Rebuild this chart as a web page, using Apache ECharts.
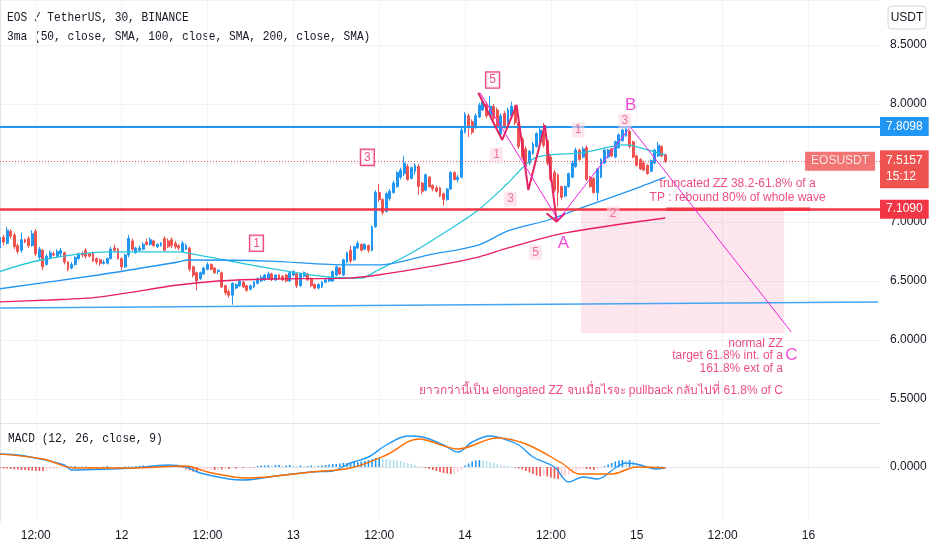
<!DOCTYPE html>
<html><head><meta charset="utf-8">
<script src="https://cdn.jsdelivr.net/npm/echarts@6/dist/echarts.min.js"></script>
<style>html,body{margin:0;padding:0;background:#fff}#c{width:932px;height:550px}</style>
</head><body><div id="c"></div><script>
// ---------- data ----------
const START_DAY = 11, START_MIN = 7 * 60, SLOT = 30, SLOTS = 247;
const categories = [];
for (let k = 0; k < SLOTS; k++) {
  const m = START_MIN + k * SLOT;
  const d = START_DAY + Math.floor(m / 1440);
  const mm = m % 1440;
  categories.push(d + ' ' + String(Math.floor(mm / 60)).padStart(2, '0') + ':' + String(mm % 60).padStart(2, '0'));
}
// [open, close, low, high]
const candlesA = [
[6.78,6.87,6.75,6.91],[6.87,6.83,6.80,6.89],[6.82,6.93,6.81,6.96],[6.92,6.88,6.86,6.94],[6.89,6.79,6.77,6.91],
[6.80,6.75,6.73,6.82],[6.76,6.85,6.74,6.91],[6.85,6.83,6.82,6.86],[6.86,6.80,6.78,6.88],[6.80,6.90,6.79,6.93],
[6.92,6.73,6.71,6.94],[6.70,6.77,6.68,6.79],[6.76,6.62,6.59,6.77],[6.64,6.71,6.63,6.73],[6.70,6.74,6.69,6.76],
[6.73,6.72,6.71,6.75],[6.71,6.75,6.70,6.77],[6.73,6.76,6.71,6.78],[6.74,6.66,6.64,6.75],[6.66,6.60,6.58,6.67],
[6.61,6.64,6.60,6.66],[6.64,6.70,6.63,6.71],[6.69,6.73,6.68,6.74],[6.73,6.72,6.70,6.75],[6.76,6.71,6.69,6.78],
[6.73,6.71,6.70,6.74],[6.74,6.67,6.66,6.75],[6.69,6.66,6.64,6.70],[6.68,6.65,6.63,6.69],[6.65,6.66,6.64,6.68],
[6.65,6.69,6.64,6.70],[6.69,6.77,6.68,6.79],[6.78,6.76,6.74,6.81],[6.77,6.69,6.68,6.78],[6.69,6.62,6.59,6.70],
[6.62,6.72,6.61,6.73],[6.72,6.86,6.70,6.89],[6.84,6.77,6.75,6.86],[6.74,6.78,6.73,6.79],[6.76,6.78,6.75,6.80],
[6.77,6.81,6.76,6.83],[6.83,6.81,6.80,6.86],[6.81,6.85,6.80,6.87],[6.84,6.80,6.79,6.85],[6.79,6.81,6.78,6.82],
[6.80,6.82,6.79,6.83],[6.86,6.76,6.75,6.88],[6.84,6.79,6.78,6.86]];
const candlesB = [
[6.85,6.80,6.78,6.87],[6.82,6.79,6.77,6.84],[6.80,6.78,6.76,6.81],[6.75,6.82,6.74,6.84],[6.77,6.80,6.76,6.82],
[6.78,6.60,6.58,6.79],[6.62,6.55,6.53,6.63],[6.57,6.50,6.42,6.58],[6.52,6.57,6.51,6.58],[6.56,6.61,6.55,6.62],
[6.60,6.64,6.59,6.66],[6.64,6.60,6.59,6.65],[6.61,6.57,6.56,6.62],[6.58,6.59,6.56,6.60],[6.57,6.45,6.44,6.58],
[6.46,6.40,6.38,6.47],[6.41,6.38,6.36,6.43],[6.38,6.48,6.30,6.49],[6.44,6.47,6.43,6.48],[6.46,6.50,6.45,6.51],
[6.49,6.45,6.44,6.50],[6.46,6.42,6.41,6.47],[6.43,6.46,6.42,6.47],[6.45,6.49,6.44,6.50],[6.48,6.52,6.47,6.53],
[6.50,6.53,6.49,6.55],[6.51,6.55,6.50,6.56],[6.52,6.56,6.51,6.58],[6.56,6.51,6.50,6.57],[6.51,6.55,6.50,6.56],
[6.55,6.52,6.51,6.56],[6.54,6.51,6.50,6.55],[6.55,6.50,6.49,6.56],[6.50,6.57,6.49,6.58],[6.55,6.58,6.54,6.59],
[6.56,6.46,6.44,6.57],[6.46,6.56,6.45,6.57],[6.54,6.57,6.53,6.58],[6.56,6.51,6.50,6.57],[6.52,6.46,6.45,6.53],
[6.47,6.44,6.43,6.48],[6.44,6.47,6.43,6.48],[6.45,6.49,6.44,6.50],[6.49,6.51,6.48,6.52],[6.50,6.53,6.49,6.54],
[6.50,6.58,6.49,6.59],[6.55,6.62,6.54,6.63],[6.61,6.56,6.55,6.62],[6.55,6.68,6.54,6.69],[6.66,6.74,6.65,6.75]];
const candlesC = [
[6.76,6.67,6.65,6.80],[6.68,6.79,6.67,6.80],[6.78,6.82,6.77,6.84],[6.81,6.76,6.75,6.82],[6.77,6.81,6.76,6.82],
[6.80,6.76,6.74,6.81],[6.76,6.96,6.75,6.97],[6.96,7.25,6.95,7.27],[7.25,7.19,7.17,7.32],[7.19,7.08,7.06,7.20],
[7.09,7.24,7.08,7.25],[7.20,7.26,7.18,7.28],[7.25,7.33,7.24,7.35],[7.30,7.42,7.29,7.43],[7.38,7.44,7.36,7.46],
[7.41,7.50,7.39,7.56],[7.47,7.36,7.35,7.49],[7.37,7.46,7.36,7.47],[7.43,7.48,7.40,7.50],[7.47,7.30,7.23,7.49],
[7.33,7.26,7.24,7.34],[7.27,7.40,7.26,7.41],[7.38,7.30,7.29,7.39],[7.31,7.28,7.26,7.32],[7.29,7.26,7.25,7.31],
[7.29,7.22,7.21,7.30],[7.24,7.19,7.14,7.25],[7.19,7.28,7.18,7.29],[7.28,7.42,7.27,7.43],[7.42,7.36,7.35,7.43],
[7.36,7.38,7.34,7.40]];
const candlesD = [
[7.38,7.78,7.37,7.80],[7.76,7.91,7.75,7.93],[7.90,7.80,7.72,7.92],[7.85,7.76,7.74,7.87],[7.80,7.90,7.79,7.92],
[7.89,7.99,7.88,8.01],[7.95,8.02,7.94,8.04],[8.00,7.90,7.88,8.02],[7.90,7.98,7.89,8.07],[7.98,7.88,7.86,8.00],
[7.95,7.80,7.78,7.97],[7.74,7.90,7.72,7.92],[7.92,7.81,7.79,7.94],[7.84,7.95,7.83,7.97],[7.90,7.98,7.89,8.02],
[7.96,7.84,7.82,7.99],[7.84,7.64,7.62,7.86],[7.70,7.55,7.53,7.72],[7.62,7.47,7.45,7.64],[7.50,7.60,7.48,7.61],
[7.58,7.66,7.57,7.68],[7.64,7.75,7.63,7.76],[7.68,7.78,7.67,7.80],[7.76,7.65,7.63,7.84],[7.69,7.50,7.48,7.70],
[7.55,7.36,7.34,7.57],[7.42,7.27,7.25,7.44],[7.40,7.25,7.13,7.41],[7.30,7.21,7.19,7.31],[7.22,7.30,7.21,7.31],
[7.30,7.41,7.29,7.42],[7.38,7.50,7.37,7.52],[7.47,7.61,7.46,7.63],[7.61,7.53,7.52,7.62],[7.55,7.62,7.54,7.64],
[7.63,7.36,7.35,7.65],[7.38,7.30,7.29,7.39],[7.37,7.25,7.24,7.38],[7.25,7.45,7.18,7.46],[7.38,7.53,7.37,7.54],
[7.50,7.61,7.49,7.62],[7.55,7.61,7.54,7.62],[7.62,7.56,7.55,7.63],[7.55,7.68,7.54,7.69],[7.63,7.74,7.62,7.75],
[7.69,7.78,7.68,7.79],[7.73,7.79,7.72,7.81],[7.77,7.64,7.62,7.78],[7.68,7.55,7.54,7.69],[7.56,7.48,7.47,7.57],
[7.53,7.45,7.44,7.54],[7.50,7.44,7.43,7.52],[7.48,7.41,7.40,7.49],[7.43,7.52,7.42,7.53],[7.50,7.61,7.49,7.62],
[7.56,7.65,7.55,7.68],[7.64,7.56,7.55,7.65],[7.57,7.5157,7.50,7.58]];
const candles = candlesA.concat(candlesB, candlesC, candlesD);

// moving averages [slot, price]
const sma50 = [[-0.5,6.576],[11.5,6.678],[30.3,6.746],[49.8,6.746],[52.6,6.737],[75,6.61],[91.8,6.534],[101,6.525],[105.7,6.593],[115,6.737],[124.5,6.915],[133.7,7.102],[142,7.33],[148.5,7.525],[153.3,7.568],[162.5,7.585],[174.8,7.653],[181.2,7.61],[186,7.568]];
const sma100 = [[-0.5,6.432],[27.5,6.551],[49.8,6.661],[52.6,6.678],[75,6.669],[97.3,6.636],[105.7,6.636],[119.7,6.72],[133.7,6.805],[142,6.924],[153.3,7.017],[162.5,7.119],[176.5,7.271],[186,7.381]];
const sma200 = [[-0.5,6.322],[13.5,6.339],[27.5,6.364],[49.8,6.466],[61,6.5],[75,6.517],[97.3,6.525],[105.7,6.551],[119.7,6.619],[133.7,6.703],[142,6.78],[158,6.907],[186,7.034]];

// drawings
const levelBlue = 7.8098, levelRed = 7.1090, lastClose = 7.5157, countdown = '15:12', symbolName = 'EOSUSDT';
const trendLine = [[-0.5,6.271],[245.5,6.322]];
const redSegment = [[186.2,7.109],[226.5,7.109]];
const zzThin = [[134.25,8.093],[156.05,7.017],[176.2,7.805],[221.2,6.068]];
const zzWave = [[133.7,8.096],[140.4,7.695],[144.4,7.992],[147.7,7.271],[152.3,7.822],[155.6,7.003]];
const zzTick = [[152.8,7.074],[155.6,7.003],[157.9,7.074]];
const targetBox = [[162.4,7.109],[219.2,6.057]];
const boxLabels = [{t:'1',i:71.7,p:6.82},{t:'3',i:102.7,p:7.548},{t:'5',i:137.7,p:8.203}];
const subLabels = [{t:'1',i:138.8,p:7.568},{t:'3',i:142.7,p:7.195},{t:'5',i:149.7,p:6.743},{t:'1',i:161.6,p:7.78},{t:'3',i:174.7,p:7.856},{t:'2',i:171.4,p:7.074}];
const abcLabels = [{t:'A',i:157.5,p:6.82},{t:'B',i:176.3,p:7.99},{t:'C',i:221.2,p:5.867}];
const notesCenter = [{t:'truncated ZZ 38.2-61.8% of a',i:206.2,p:7.322},{t:'TP : rebound 80% of whole wave',i:206.2,p:7.203}];
const notesRight = [{t:'normal ZZ',i:219.0,p:5.972},{t:'target 61.8% int. of a',i:219.0,p:5.864},{t:'161.8% ext of a',i:219.0,p:5.76},{t:'ยาวกว่านี้เป็น elongated ZZ จบเมื่อไรจะ pullback กลับไปที่ 61.8% of C',i:219.0,p:5.568}];
const symbolTag = [{t:symbolName,i:245.6,p:lastClose}];

// MACD
const macdLine = [[-0.5,0.052],[7,0.044],[18,0.008],[20,-0.012],[31,-0.008],[37,-0.004],[47,0.008],[52,0],[56,-0.024],[64,-0.048],[68,-0.052],[77,-0.036],[87,-0.020],[93,-0.016],[98,0.016],[103,0.040],[108,0.088],[114,0.124],[118,0.120],[124,0.088],[128,0.060],[132,0.100],[137,0.124],[140,0.116],[145,0.088],[149,0.040],[155,0],[159,-0.060],[163,-0.040],[167,-0.048],[172,-0.004],[175,0.016],[179,0.008],[183,-0.008],[186,-0.004]];
const signalLine = [[-0.5,0.052],[12,0.032],[21,-0.004],[37,-0.004],[52,0.004],[58,-0.020],[69,-0.044],[87,-0.020],[98,-0.004],[108,0.048],[117,0.112],[128,0.072],[139,0.116],[147,0.092],[157,0.016],[162,-0.028],[171,-0.028],[178,0],[186,-0.004]];
const histogram = [
-0.004,-0.006,-0.006,
-0.008,-0.010,-0.010,-0.012,-0.012,-0.014,-0.014,-0.016,-0.016,-0.016,-0.014,
-0.010,-0.008,-0.006,-0.004,-0.002,
0.002,0.002,0.004,0.002,0.002,0.002,
-0.004,-0.006,-0.006,-0.004,0.002,0.004,0.002,-0.002,-0.004,-0.002,0.002,0.002,
0.002,0.004,0.004,0.006,0.004,0.004,0.002,0.004,0.002,0.002,0.002,0.002,0.000,-0.002,-0.004,
-0.010,-0.014,-0.018,-0.020,-0.018,-0.016,
-0.014,-0.012,-0.012,-0.010,-0.010,-0.008,-0.008,-0.006,-0.006,-0.004,-0.004,-0.002,-0.002,-0.002,
0.004,0.006,0.006,0.008,0.006,0.008,0.008,0.006,0.006,0.008,0.006,0.004,0.006,0.004,0.004,0.006,0.004,0.004,0.006,0.008,0.010,0.012,0.012,
0.014,0.016,0.016,0.018,0.020,0.020,0.022,0.024,
0.028,0.032,0.036,0.036,0.034,0.032,
0.030,0.028,0.026,0.024,0.020,0.016,0.012,0.008,
0.004,0.002,
-0.004,-0.008,-0.012,-0.016,-0.020,-0.024,-0.026,-0.028,-0.026,-0.022,-0.012,
0.006,0.014,0.022,0.026,0.028,0.026,0.024,0.020,
0.016,0.012,0.008,0.006,
0.004,0.002,-0.002,-0.006,-0.010,
-0.016,-0.022,-0.028,-0.034,-0.038,-0.036,-0.038,
-0.042,-0.046,-0.048,-0.044,-0.036,-0.030,
-0.024,-0.018,-0.012,-0.008,
-0.008,-0.010,-0.012,-0.008,-0.004,
0.004,0.010,0.016,0.022,0.026,0.028,0.026,0.028,0.024,
0.018,0.012,0.008,0.004,0.002,
-0.002,0.002,0.002,0.000];

// ---------- chart ----------
const PINK = '#e91e63', MAG = '#ee22dd', TXT = '#131722', GRIDC = '#f0f3fa', LINEC = '#e0e3eb';
const axisFont = '"Liberation Sans Narrow","Liberation Sans",sans-serif';
const isMajor = (idx, val) => /(00:00|12:00)$/.test(val);
const fmtTime = v => v.endsWith('00:00') ? v.split(' ')[0] : '12:00';
const pts = a => a.map(d => ({ value: [d.i, d.p], name: d.t }));
const lineS = (data, color, width, extra) => Object.assign({ type: 'line', xAxisIndex: 1, yAxisIndex: 0, data, showSymbol: false, silent: true, animation: false, lineStyle: { color, width }, z: 4 }, extra || {});
const textS = (items, label, z) => ({ type: 'scatter', xAxisIndex: 1, yAxisIndex: 0, data: pts(items), symbolSize: 1, itemStyle: { color: 'rgba(0,0,0,0)' }, silent: true, animation: false, z: z || 20,
  label: Object.assign({ show: true, position: 'inside', formatter: p => p.name }, label) });

const option = {
  animation: false,
  backgroundColor: '#ffffff',
  grid: [
    { left: 0, right: 52, top: 0, height: 423 },
    { left: 0, right: 52, top: 423, height: 98 }
  ],
  xAxis: [
    { type: 'category', gridIndex: 0, data: categories, boundaryGap: false,
      axisLine: { show: true, lineStyle: { color: LINEC } }, axisTick: { show: false }, axisLabel: { show: false },
      splitLine: { show: true, interval: isMajor, lineStyle: { color: GRIDC } } },
    { type: 'value', gridIndex: 0, min: 0, max: SLOTS - 1, show: false },
    { type: 'category', gridIndex: 1, data: categories, boundaryGap: false,
      axisLine: { show: true, lineStyle: { color: LINEC } }, axisTick: { show: false },
      axisLabel: { interval: isMajor, formatter: fmtTime, color: TXT, fontSize: 12, fontFamily: axisFont, margin: 9 },
      splitLine: { show: true, interval: isMajor, lineStyle: { color: GRIDC } } },
    { type: 'value', gridIndex: 1, min: 0, max: SLOTS - 1, show: false }
  ],
  yAxis: [
    { type: 'value', gridIndex: 0, position: 'right', min: 5.2966, max: 8.8814, splitNumber: 7, scale: true,
      axisLine: { show: true, lineStyle: { color: LINEC } }, axisTick: { show: false },
      axisLabel: { color: TXT, fontSize: 12, fontFamily: axisFont, margin: 10, showMinLabel: false, showMaxLabel: false,
        formatter: v => v.toFixed(4) },
      splitLine: { show: true, lineStyle: { color: GRIDC } } },
    { type: 'value', gridIndex: 1, position: 'right', min: -0.216, max: 0.176,
      axisLine: { show: true, lineStyle: { color: LINEC } }, axisTick: { show: false },
      axisLabel: { color: TXT, fontSize: 12, fontFamily: axisFont, margin: 10, showMinLabel: false, showMaxLabel: false,
        formatter: v => Math.abs(v) < 1e-9 ? '0.0000' : '' },
      splitLine: { show: false } }
  ],
  graphic: [
    { type: 'text', left: 7, top: 12, scaleX: 0.92, style: { text: 'EOS / TetherUS, 30, BINANCE', font: '12.2px "Liberation Mono", monospace', fill: TXT } },
    { type: 'text', left: 7, top: 31, scaleX: 0.92, style: { text: '3ma (50, close, SMA, 100, close, SMA, 200, close, SMA)', font: '12.2px "Liberation Mono", monospace', fill: TXT } },
    { type: 'text', left: 8, top: 433, scaleX: 0.92, style: { text: 'MACD (12, 26, close, 9)', font: '12.2px "Liberation Mono", monospace', fill: TXT } },
    { type: 'rect', shape: { x: 888, y: 6, width: 38, height: 23, r: 4 }, style: { fill: '#fff', stroke: '#d1d4dc', lineWidth: 1 }, z: 100 },
    { type: 'text', x: 907, y: 18, style: { text: 'USDT', font: '12px ' + axisFont, fill: TXT, align: 'center', verticalAlign: 'middle' }, z: 101 }
  ],
  series: [
    { type: 'candlestick', xAxisIndex: 0, yAxisIndex: 0, data: candles, barWidth: 2.4, z: 3,
      itemStyle: { color: '#2196f3', color0: '#ef5350', borderColor: '#2196f3', borderColor0: '#ef5350', borderWidth: 1 },
      markLine: { symbol: 'none', silent: true, animation: false, precision: 4,
        data: [
          { yAxis: levelBlue, lineStyle: { color: '#2196f3', width: 2, type: 'solid' },
            label: { show: true, position: 'end', distance: 0, formatter: () => levelBlue.toFixed(4), color: '#fff', backgroundColor: '#2196f3', padding: [4, 6, 3, 6], fontSize: 12, fontFamily: axisFont } },
          { yAxis: levelRed, lineStyle: { color: '#f23645', width: 2.5, type: 'solid' },
            label: { show: true, position: 'end', distance: 0, formatter: () => levelRed.toFixed(4), color: '#fff', backgroundColor: '#f23645', padding: [4, 6, 3, 6], fontSize: 12, fontFamily: axisFont } },
          { yAxis: lastClose, lineStyle: { color: '#ef5350', width: 1, type: [1, 2] },
            label: { show: true, position: 'end', distance: 0, formatter: () => lastClose.toFixed(4) + '\n' + countdown, color: '#fff', backgroundColor: '#ef5350', padding: [3, 6, 3, 6], lineHeight: 16, fontSize: 12, fontFamily: axisFont, verticalAlign: 'top', offset: [0, -11] } }
        ] } },
    lineS(sma50, '#26c6da', 1.3, { smooth: 0.3 }),
    lineS(sma100, '#2196f3', 1.3, { smooth: 0.3 }),
    lineS(sma200, '#e91e63', 1.3, { smooth: 0.3 }),
    lineS(trendLine, '#42a5f5', 1.6),
    lineS(redSegment, '#f23645', 3.5, { z: 5 }),
    lineS(targetBox, 'rgba(0,0,0,0)', 0, { z: 1,
      markArea: { silent: true, itemStyle: { color: 'rgba(236,64,122,0.13)' },
        data: [[{ coord: targetBox[0] }, { coord: targetBox[1] }]] } }),
    lineS(zzWave, '#e3245f', 2, { z: 6 }),
    lineS(zzTick, '#e3245f', 2, { z: 6 }),
    lineS(zzThin, MAG, 1, { z: 7 }),
    textS(boxLabels, { color: PINK, fontSize: 12, fontFamily: axisFont, backgroundColor: '#fff', borderColor: PINK, borderWidth: 1.3, padding: [2, 3, 1, 3] }),
    textS(subLabels, { color: '#e8588a', fontSize: 12, fontFamily: axisFont, backgroundColor: 'rgba(252,214,226,0.75)', padding: [2, 3, 1, 3] }),
    textS(abcLabels, { color: '#ee1ecf', fontSize: 17, fontFamily: axisFont }),
    textS(notesCenter, { color: PINK, fontSize: 12, fontFamily: axisFont }),
    textS(notesRight, { color: PINK, fontSize: 12, fontFamily: axisFont + ',"Noto Sans","DejaVu Sans"', position: 'left', distance: 0 }),
    textS(symbolTag, { color: '#fff', fontSize: 12, fontFamily: axisFont, position: 'left', distance: 3, backgroundColor: '#ef5350', padding: [4, 6, 3, 6] }, 30),
    { type: 'bar', xAxisIndex: 2, yAxisIndex: 1, data: histogram, barWidth: 1.6, silent: true, animation: false,
      itemStyle: { color: p => {
        const v = histogram[p.dataIndex], pv = p.dataIndex > 0 ? histogram[p.dataIndex - 1] : v;
        if (v >= 0) return v >= pv ? '#2196f3' : '#b2dff0';
        return v <= pv ? '#ef5350' : '#ffcdd2';
      } } },
    { type: 'line', xAxisIndex: 3, yAxisIndex: 1, data: macdLine, smooth: 0.35, showSymbol: false, silent: true, lineStyle: { color: '#2196f3', width: 1.4 } },
    { type: 'line', xAxisIndex: 3, yAxisIndex: 1, data: signalLine, smooth: 0.35, showSymbol: false, silent: true, lineStyle: { color: '#ff6d00', width: 1.4 } }
  ]
};
const chart = echarts.init(document.getElementById('c'), null, { renderer: 'canvas' });
chart.setOption(option);
</script></body></html>
